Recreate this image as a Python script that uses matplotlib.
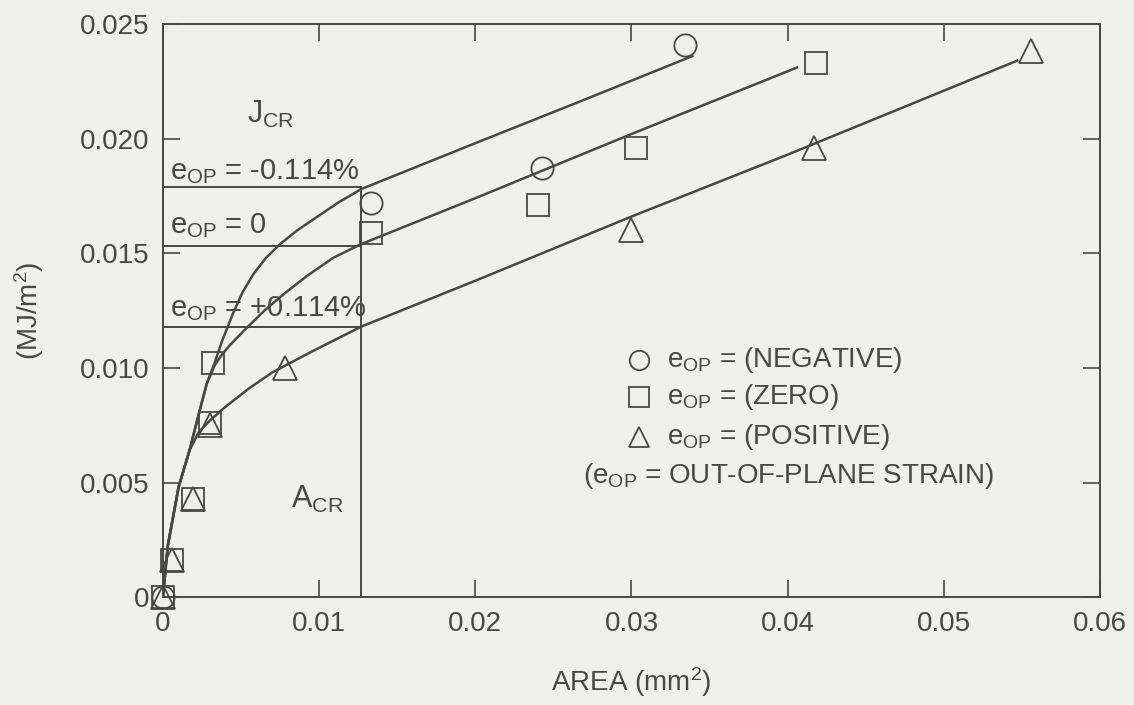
import matplotlib
matplotlib.use("Agg")
import matplotlib.pyplot as plt

# measured points (AREA mm^2, J MJ/m^2)
neg_x = [0.0, 0.0133, 0.0243, 0.0334]
neg_y = [0.0, 0.0172, 0.0187, 0.0241]
zero_x = [0.0, 0.0006, 0.0019, 0.0030, 0.0032, 0.0133, 0.0240, 0.0303, 0.0418]
zero_y = [0.0, 0.0016, 0.0043, 0.0076, 0.0102, 0.0159, 0.0171, 0.0196, 0.0233]
pos_x = [0.0, 0.0006, 0.0019, 0.0030, 0.0078, 0.0300, 0.0417, 0.0556]
pos_y = [0.0, 0.0016, 0.0043, 0.0075, 0.0100, 0.0160, 0.0196, 0.0238]

# fitted curves
neg_fit_x = [0.0, 0.0003, 0.001, 0.0017, 0.0023, 0.0028, 0.0033, 0.0038, 0.0045,
             0.0051, 0.0058, 0.0066, 0.0075, 0.0086, 0.0099, 0.0112, 0.0127,
             0.020, 0.027, 0.0339]
neg_fit_y = [0.0, 0.0022, 0.0048, 0.0064, 0.0080, 0.0093, 0.0102, 0.0112, 0.0124,
             0.0133, 0.0141, 0.0148, 0.0154, 0.0160, 0.0166, 0.0172, 0.0178,
             0.0198, 0.0217, 0.0236]
zero_fit_x = [0.0, 0.0003, 0.001, 0.0017, 0.0023, 0.0028, 0.0033, 0.0038, 0.0043,
              0.0053, 0.0065, 0.0077, 0.0092, 0.0109, 0.0127, 0.020, 0.030, 0.0406]
zero_fit_y = [0.0, 0.0022, 0.0048, 0.0064, 0.0080, 0.0093, 0.0101, 0.0106, 0.0110,
              0.0117, 0.0125, 0.0132, 0.0140, 0.0148, 0.0154, 0.0174, 0.0202, 0.0231]
pos_fit_x = [0.0, 0.0003, 0.001, 0.0017, 0.0023, 0.0030, 0.0040, 0.0055, 0.0070,
             0.0095, 0.0127, 0.020, 0.030, 0.040, 0.0547]
pos_fit_y = [0.0, 0.0022, 0.0048, 0.0064, 0.0072, 0.0077, 0.0083, 0.0091, 0.0098,
             0.0107, 0.0118, 0.0138, 0.0166, 0.0193, 0.0234]

# critical values
a_cr = 0.0127
j_cr = [0.0179, 0.0153, 0.0118]
j_cr_labels = [r"$\mathregular{e_{OP}}$ = -0.114%", r"$\mathregular{e_{OP}}$ = 0",
               r"$\mathregular{e_{OP}}$ = +0.114%"]
j_cr_label_y = [0.01855, 0.0162, 0.0126]

xticks = [0, 0.01, 0.02, 0.03, 0.04, 0.05, 0.06]
xtick_labels = ["0", "0.01", "0.02", "0.03", "0.04", "0.05", "0.06"]
yticks = [0, 0.005, 0.010, 0.015, 0.020, 0.025]
ytick_labels = ["0", "0.005", "0.010", "0.015", "0.020", "0.025"]

legend_names = ["(NEGATIVE)", "(ZERO)", "(POSITIVE)"]
legend_markers = ["o", "s", "^"]
legend_y = [0.01034, 0.00873, 0.00698]

INK = "#474747"
BG = "#efefed"

plt.rcParams['font.family'] = ['Liberation Sans', 'DejaVu Sans']
plt.rcParams['mathtext.default'] = 'regular'

fig = plt.figure(figsize=(11.34, 7.05), dpi=100, facecolor=BG)
ax = fig.add_axes([0.1437, 0.153, 0.8263, 0.813], facecolor=BG)

for fx, fy in [(neg_fit_x, neg_fit_y), (zero_fit_x, zero_fit_y), (pos_fit_x, pos_fit_y)]:
    ax.plot(fx, fy, color=INK, lw=1.8, zorder=2, solid_joinstyle="round")

# J_CR / A_CR construction lines
for jy in j_cr:
    ax.plot([0, a_cr], [jy, jy], color=INK, lw=1.4, zorder=1)
ax.plot([a_cr, a_cr], [0, j_cr[0]], color=INK, lw=1.4, zorder=1)

mk = dict(linestyle="none", markerfacecolor="none", markeredgecolor=INK,
          markeredgewidth=1.3, clip_on=False, zorder=3)
ax.plot(neg_x, neg_y, marker="o", markersize=16, **mk)
ax.plot(zero_x, zero_y, marker="s", markersize=16, **mk)
ax.plot(pos_x, pos_y, marker="^", markersize=17, **mk)

ax.text(0.0054, 0.0207, r"J$_{\mathregular{CR}}$", fontsize=22, color=INK, ha="left")
for lbl, ly in zip(j_cr_labels, j_cr_label_y):
    ax.text(0.00045, ly, lbl, fontsize=21, color=INK, ha="left", va="center")
ax.text(0.0082, 0.0039, r"A$_{\mathregular{CR}}$", fontsize=22, color=INK, ha="left")

# legend block
leg_x = 0.0305
for m, ly, name in zip(legend_markers, legend_y, legend_names):
    ax.plot([leg_x], [ly], marker=m, markersize=14 if m != "^" else 15, **mk)
    ax.text(leg_x + 0.0018, ly, r"$\mathregular{e_{OP}}$ = " + name, fontsize=20,
            color=INK, va="center")
ax.text(0.0269, 0.00528, r"($\mathregular{e_{OP}}$ = OUT-OF-PLANE STRAIN)", fontsize=20,
        color=INK, va="center")

ax.set_xlim(0, 0.06)
ax.set_ylim(0, 0.025)
ax.set_xticks(xticks)
ax.set_xticklabels(xtick_labels)
ax.set_yticks(yticks)
ax.set_yticklabels(ytick_labels)
ax.tick_params(direction="in", length=12, width=1.2, colors=INK, labelsize=20,
               top=True, right=True, pad=10)
for s in ax.spines.values():
    s.set_color(INK)
    s.set_linewidth(1.4)

ax.set_xlabel(r"AREA (mm$^2$)", fontsize=20, color=INK, labelpad=20)
ax.set_ylabel(r"(MJ/m$^2$)", fontsize=20, color=INK, labelpad=24)

fig.savefig("out.png", dpi=100, facecolor=BG)
